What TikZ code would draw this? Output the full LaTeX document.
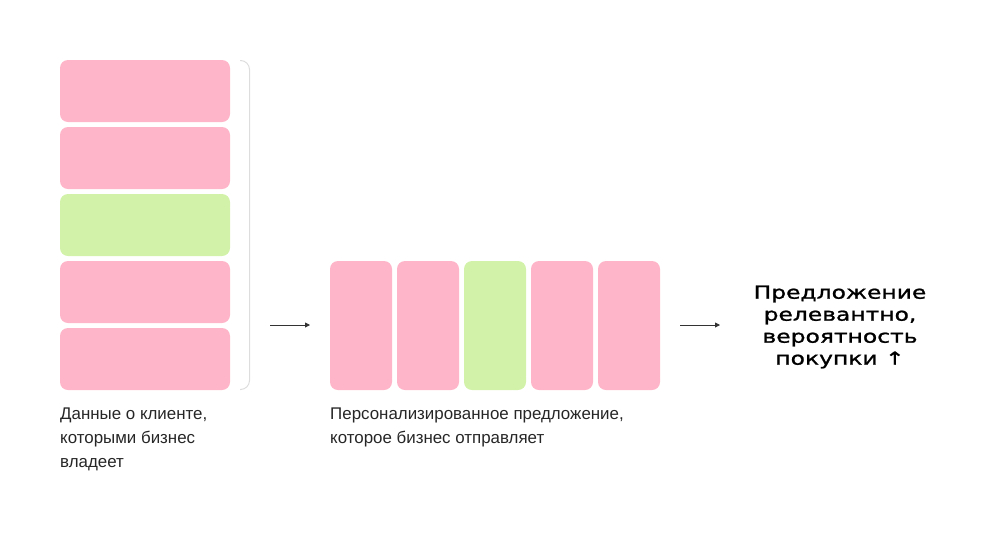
\documentclass[tikz,border=0pt]{standalone}
\usepackage{fontspec}
\setmainfont{Liberation Sans}
\newfontfamily\headfont[FakeBold=1.2,FakeStretch=1.3]{DejaVu Sans}
\usetikzlibrary{arrows.meta}
\definecolor{pinkbox}{HTML}{FFB5C9}
\definecolor{greenbox}{HTML}{D3F2A9}
\definecolor{bracketgray}{HTML}{DDDDDD}
\definecolor{arrowgray}{HTML}{333333}
\begin{document}
\begin{tikzpicture}[x=1pt,y=-1pt,
  cell/.style={rounded corners=8pt},
  flow/.style={draw=arrowgray,line width=0.9pt,-{Triangle[length=5pt,width=5pt]}},
  caption/.style={anchor=north west,align=left,font=\fontsize{16.9}{24}\selectfont,text=black!85,inner sep=0pt},
  result/.style={align=center,font=\headfont\fontsize{18}{22}\selectfont,inner sep=0pt}]
\useasboundingbox (0,0) rectangle (1000,536);
% left column
\foreach \y/\c [count=\i] in {60/pinkbox,127/pinkbox,194/greenbox,261/pinkbox,328/pinkbox}{
  \fill[\c,cell] (60,\y) rectangle (230,\y+62);
}
% bracket
\draw[bracketgray,line width=1pt,rounded corners=9pt] (240,60.5) -- (249.5,60.5) -- (249.5,389.5) -- (240,389.5);
% middle row
\foreach \x/\c [count=\i] in {330/pinkbox,397/pinkbox,464/greenbox,531/pinkbox,598/pinkbox}{
  \fill[\c,cell] (\x,261) rectangle (\x+62,390);
}
\coordinate (a1s) at (270,325);
\coordinate (a1e) at (310,325);
\coordinate (a2s) at (680,325);
\coordinate (a2e) at (720,325);
\draw[flow] (a1s) -- (a1e);
\draw[flow] (a2s) -- (a2e);
\node[result] (res) at (840,327) {Предложение\\релевантно,\\вероятность\\покупки ↑};
\node[caption] (cap1) at (60,407.5) {Данные о клиенте,\\которыми бизнес\\владеет};
\node[caption] (cap2) at (330,407.5) {Персонализированное предложение,\\которое бизнес отправляет};
\end{tikzpicture}
\end{document}
